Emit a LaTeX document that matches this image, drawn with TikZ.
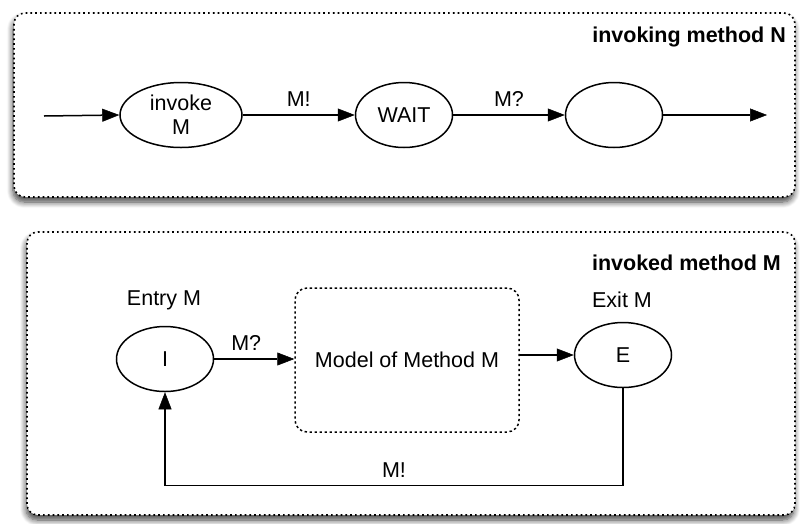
\documentclass[tikz,border=0pt]{standalone}
\usepackage{fontspec}
\setmainfont{Liberation Sans}
\usetikzlibrary{arrows.meta,shapes.geometric,shadows.blur}
\begin{document}
\begin{tikzpicture}[x=1pt,y=-1pt,
  every node/.style={font=\fontsize{21.5}{24}\selectfont},
  state/.style={ellipse, draw, line width=1.5pt, minimum width=97pt, minimum height=65pt, inner sep=0pt, align=center},
  panel/.style={draw, rounded corners=11pt, line width=1.6pt, dash pattern=on 1.7pt off 3.1pt, fill=white,
    blur shadow={shadow xshift=-1pt, shadow yshift=-5pt, shadow blur radius=6pt, shadow blur steps=8, shadow opacity=75}},
  modelbox/.style={draw, rounded corners=12pt, line width=1.5pt, dash pattern=on 2.4pt off 2.6pt, minimum width=224pt, minimum height=144pt, inner sep=0pt},
  flow/.style={line width=1.5pt, draw=black, -{Triangle[length=17pt,width=13pt,fill=black,line width=0.5pt]}},
  lbl/.style={inner sep=0pt},
  paneltitle/.style={font=\bfseries\fontsize{21.5}{24}\selectfont, anchor=east, inner sep=0pt}]
\useasboundingbox (0,0) rectangle (800,523);
% panels
\path[panel] (14,13) rectangle (795,197);
\path[panel] (27,232) rectangle (795,515);
\node[paneltitle] (t1) at (786,37) {invoking method N};
\node[paneltitle] (t2) at (781,263) {invoked method M};
% top row
\coordinate (in) at (44,116);
\coordinate (out) at (767,115);
\node[state, minimum width=122pt] (inv) at (181,115) {invoke\\M};
\node[state] (wait) at (404,115) {WAIT};
\node[state] (res) at (614,115) {};
\draw[flow] (in) -- (inv.west);
\draw[flow] (inv.east) -- node[midway, above=8pt, lbl] {M!} (wait.west);
\draw[flow] (wait.east) -- node[midway, above=8pt, lbl] {M?} (res.west);
\draw[flow] (res.east) -- (out);
% bottom
\node[state] (I) at (165,359) {I};
\node[state] (E) at (623,355) {E};
\node[modelbox] (model) at (407,360) {Model of Method M};
\node[lbl] (entry) at (164,300) {Entry M};
\node[lbl] (exit) at (622,300) {Exit M};
\draw[flow] (I.east) -- node[pos=0.4, above=8pt, lbl] {M?} (I.east -| model.west);
\draw[flow] (model.east |- E.west) -- (E.west);
\draw[flow] (E.south) -- ++(0,97) -| node[pos=0.25, above=7pt, lbl] {M!} (I.south);
\end{tikzpicture}
\end{document}
